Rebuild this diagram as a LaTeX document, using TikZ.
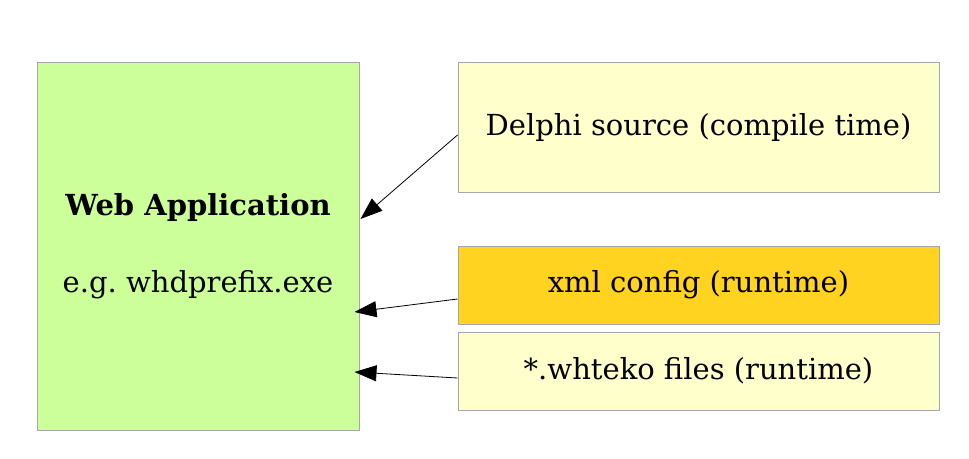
\documentclass[tikz,border=0pt]{standalone}
\usepackage{fontspec}
\setmainfont{DejaVu Serif}
\usetikzlibrary{arrows.meta,calc}
\definecolor{webgreen}{RGB}{204,255,153}
\definecolor{paleyellow}{RGB}{255,255,204}
\definecolor{xmlorange}{RGB}{255,211,32}
\definecolor{boxborder}{RGB}{166,166,166}
\frenchspacing
\begin{document}
\begin{tikzpicture}[x=1pt,y=-1pt,
  box/.style={draw=boxborder,line width=1pt,inner sep=0pt,align=center,font=\fontsize{29}{77}\selectfont},
  conn/.style={draw=black,line width=0.8pt,-{Triangle[length=22pt,width=16pt]}}]
\useasboundingbox[fill=white] (0,0) rectangle (969,458);
\node[box,fill=webgreen,minimum width=322pt,minimum height=368pt] (web) at (198,246)
  {\textbf{Web Application}\\e.g. whdprefix.exe};
\node[box,fill=paleyellow,minimum width=481pt,minimum height=130pt] (delphi) at (698.5,127)
  {Delphi source (compile time)};
\node[box,fill=xmlorange,minimum width=481pt,minimum height=78pt] (xml) at (698.5,285)
  {xml config (runtime)};
\node[box,fill=paleyellow,minimum width=481pt,minimum height=78pt] (whteko) at (698.5,371)
  {*.whteko files (runtime)};
\draw[conn] ($(delphi.west)+(0,8)$) -- ($(web.east)+(1,-27)$);
\draw[conn] ($(xml.west)+(0,14)$) -- ($(web.east)+(-5,66)$);
\draw[conn] ($(whteko.west)+(0,7)$) -- ($(web.east)+(-5,126)$);
\end{tikzpicture}
\end{document}
